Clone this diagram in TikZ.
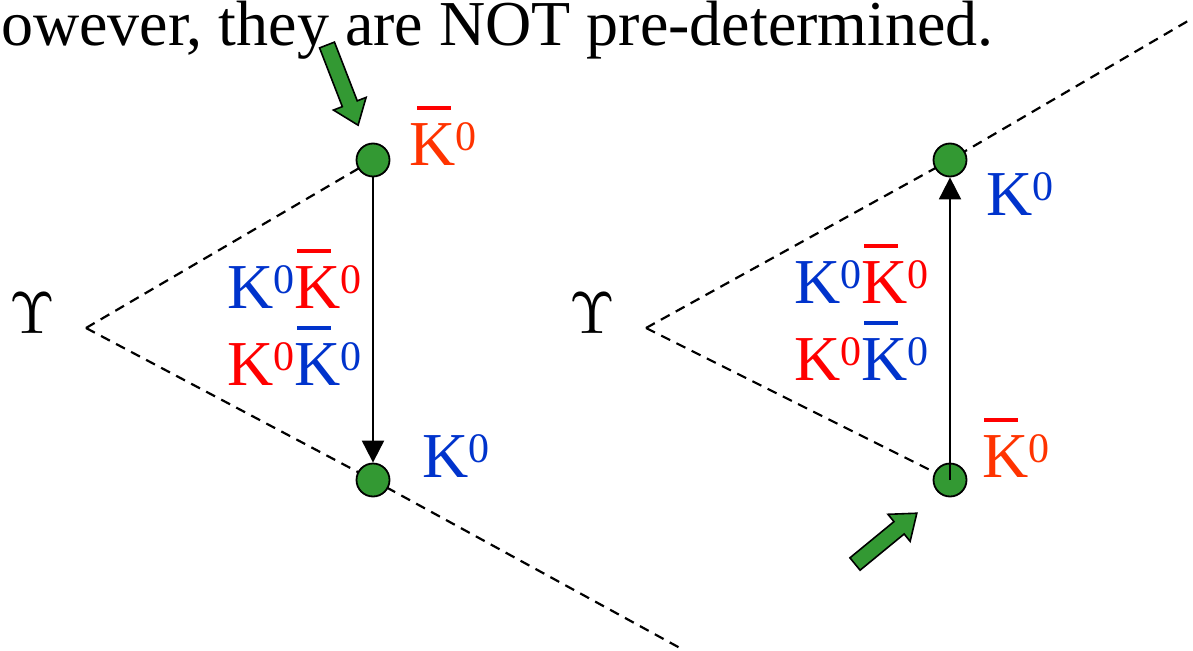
\documentclass[tikz,border=0pt]{standalone}
\usepackage{graphicx}
\usepackage{fontspec}
\setmainfont{Liberation Serif}
\usetikzlibrary{arrows.meta}
\definecolor{kblue}{HTML}{0033CC}
\definecolor{kred}{HTML}{FF0000}
\definecolor{korange}{HTML}{FF3300}
\definecolor{dotgreen}{HTML}{339933}
\newcommand\Kx[2]{{\color{#1}K}\raisebox{15pt}{\fontsize{42}{42}\selectfont\color{#2}0}}
\newcommand\Kbx[4][3pt]{\rlap{\hspace{#1}\color{#2}\rule[55pt]{34pt}{4pt}}\Kx{#3}{#4}}
\newcommand\Ups{\scalebox{5.9}{\normalsize$\Upsilon$}}
\tikzset{
  lab/.style={inner sep=0pt, anchor=base west, font=\fontsize{64}{64}\selectfont},
  dot/.style={circle, minimum size=33pt, inner sep=0pt, fill=dotgreen, draw=black, line width=1.8pt},
  track/.style={line width=2.2pt, dash pattern=on 10pt off 7pt},
  flight/.style={line width=2pt, -{Triangle[length=22pt,width=22pt]}},
  garrow/.style={fill=dotgreen, draw=black, line width=1.6pt, line join=miter},
}
\newcommand\blockarrow[3]{%
  \begin{scope}[shift={#1},rotate=#2]
    \filldraw[garrow] (0,-8) -- (#3-23,-8) -- (#3-23,-17.5) -- (#3,0) -- (#3-23,17.5) -- (#3-23,8) -- (0,8) -- cycle;
  \end{scope}}
\begin{document}
\begin{tikzpicture}[x=1pt,y=-1pt]
\useasboundingbox (0,0) rectangle (1193,650);
% title text
\node[lab] (title) at (1,45.5) {owever, they are NOT pre-determined.};
% ---------------- left diagram
\coordinate (vL) at (86,328);
\coordinate (eL) at (680,648);
\node[lab] (upsL) at (9,333) {\Ups};
\draw[track] (vL) -- (373,160);
\draw[track] (vL) -- (373,480) -- (eL);
\node[dot] (dLt) at (373,160) {};
\node[dot] (dLb) at (373,480) {};
\draw[flight] (dLt) -- (dLb);
\node[lab] (kLt) at (409,165) {\Kbx[8pt]{kred}{korange}{korange}};
\node[lab] (kLb) at (422,477) {\Kx{kblue}{kblue}};
\node[lab] (mL1) at (227,308) {\Kx{kblue}{kblue}\Kbx{kred}{kred}{kred}};
\node[lab] (mL2) at (227,385) {\Kx{kred}{kred}\Kbx{kblue}{kblue}{kblue}};
\blockarrow{(327,45)}{-68.8}{86}
% ---------------- right diagram
\coordinate (vR) at (646,328);
\coordinate (eR) at (1193,18);
\node[lab] (upsR) at (569,333) {\Ups};
\draw[track] (vR) -- (950,160) -- (eR);
\draw[track] (vR) -- (950,480);
\node[dot] (dRt) at (950,160) {};
\node[dot] (dRb) at (950,480) {};
\draw[flight] (dRb.center) -- (dRt);
\node[lab] (kRt) at (986,215) {\Kx{kblue}{kblue}};
\node[lab] (kRb) at (982,477) {\Kbx[2pt]{kred}{korange}{korange}};
\node[lab] (mR1) at (794,303) {\Kx{kblue}{kblue}\Kbx{kred}{kred}{kred}};
\node[lab] (mR2) at (794,380) {\Kx{kred}{kred}\Kbx{kblue}{kblue}{kblue}};
\blockarrow{(855,564)}{39.4}{80}
\end{tikzpicture}
\end{document}
